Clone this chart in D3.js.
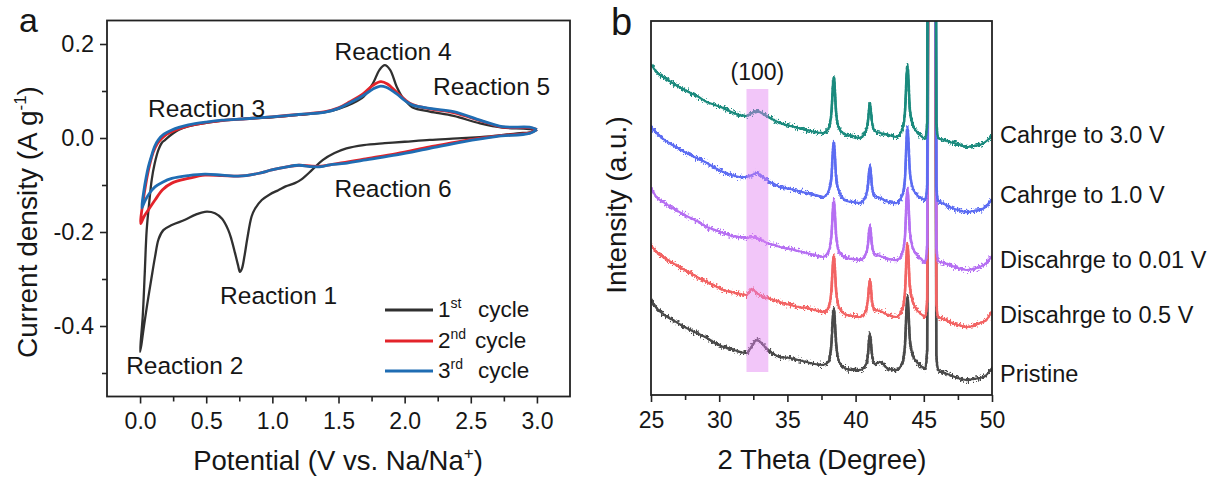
<!DOCTYPE html>
<html><head><meta charset="utf-8">
<script src="https://cdn.jsdelivr.net/npm/d3@7"></script>
<style>
body{margin:0;background:#fff}
svg{display:block}
text{font-family:"Liberation Sans",Arial,sans-serif;fill:#161616}
</style>
</head><body>
<svg id="c" width="1217" height="482"></svg>
<script>
// ---------- Panel a data: CV curves, [potential V, current A/g] in scan order ----------
const cycle1 = [[3.0,0.018],[2.95,0.012],[2.85,0.01],[2.7,0.005],[2.57,0.002],[2.4,-0.001],[2.19,-0.004],[2.0,-0.008],[1.85,-0.011],[1.69,-0.015],[1.56,-0.022],[1.47,-0.032],[1.38,-0.047],[1.30,-0.068],[1.22,-0.088],[1.17,-0.096],[1.1,-0.103],[1.045,-0.111],[0.98,-0.12],[0.92,-0.132],[0.87,-0.150],[0.843,-0.167],[0.81,-0.215],[0.79,-0.250],[0.77,-0.278],[0.755,-0.285],[0.74,-0.270],[0.718,-0.245],[0.69,-0.215],[0.667,-0.196],[0.62,-0.172],[0.566,-0.160],[0.49,-0.157],[0.42,-0.163],[0.34,-0.174],[0.24,-0.185],[0.176,-0.196],[0.14,-0.215],[0.113,-0.253],[0.085,-0.300],[0.063,-0.338],[0.04,-0.38],[0.025,-0.409],[0.01,-0.44],[0.0,-0.455],
  [0.02,-0.38],[0.035,-0.29],[0.05,-0.196],[0.07,-0.135],[0.088,-0.089],[0.11,-0.055],[0.138,-0.026],[0.165,-0.010],[0.19,-0.004],[0.24,0.008],[0.29,0.017],[0.37,0.025],[0.5,0.032],[0.62,0.037],[0.8,0.041],[1.0,0.044],[1.2,0.049],[1.4,0.055],[1.5,0.062],[1.6,0.073],[1.69,0.088],[1.76,0.116],[1.81,0.145],[1.85,0.155],[1.89,0.145],[1.94,0.109],[1.98,0.088],[2.02,0.075],[2.06,0.065],[2.19,0.056],[2.37,0.047],[2.57,0.031],[2.74,0.022],[2.9,0.02],[3.0,0.018]];
const cycle2 = [[3.0,0.018],[2.945,0.011],[2.69,0.004],[2.44,-0.006],[2.19,-0.019],[1.94,-0.033],[1.69,-0.045],[1.55,-0.052],[1.435,-0.057],[1.37,-0.060],[1.3,-0.060],[1.2,-0.058],[1.1,-0.062],[0.995,-0.068],[0.9,-0.075],[0.8,-0.080],[0.74,-0.081],[0.62,-0.080],[0.49,-0.079],[0.365,-0.086],[0.24,-0.096],[0.17,-0.11],[0.113,-0.132],[0.07,-0.15],[0.03,-0.167],[0.005,-0.182],
  [0.025,-0.13],[0.045,-0.095],[0.07,-0.06],[0.1,-0.03],[0.13,-0.012],[0.16,-0.002],[0.2,0.008],[0.26,0.016],[0.365,0.026],[0.5,0.033],[0.62,0.037],[0.8,0.041],[0.995,0.045],[1.2,0.05],[1.4,0.056],[1.5,0.064],[1.586,0.077],[1.69,0.095],[1.76,0.112],[1.82,0.12],[1.87,0.115],[1.94,0.097],[2.0,0.082],[2.06,0.071],[2.19,0.062],[2.37,0.054],[2.57,0.037],[2.74,0.023],[2.945,0.022],[3.0,0.018]];
const cycle3 = [[3.0,0.018],[2.945,0.01],[2.69,0.003],[2.44,-0.008],[2.19,-0.022],[1.94,-0.036],[1.69,-0.047],[1.55,-0.054],[1.435,-0.057],[1.37,-0.061],[1.3,-0.061],[1.2,-0.058],[1.1,-0.062],[0.995,-0.068],[0.9,-0.075],[0.8,-0.080],[0.74,-0.081],[0.62,-0.079],[0.49,-0.077],[0.365,-0.080],[0.24,-0.086],[0.17,-0.094],[0.113,-0.104],[0.07,-0.118],[0.04,-0.132],[0.013,-0.149],
  [0.03,-0.11],[0.045,-0.085],[0.063,-0.061],[0.09,-0.035],[0.11,-0.018],[0.138,-0.004],[0.18,0.008],[0.24,0.017],[0.3,0.023],[0.365,0.028],[0.5,0.034],[0.62,0.038],[0.8,0.041],[0.995,0.045],[1.2,0.05],[1.4,0.055],[1.5,0.063],[1.586,0.075],[1.69,0.091],[1.76,0.104],[1.81,0.11],[1.86,0.108],[1.94,0.094],[2.0,0.08],[2.06,0.07],[2.19,0.063],[2.37,0.056],[2.57,0.038],[2.74,0.024],[2.945,0.023],[3.0,0.018]];
const cycleNames = ["1", "2", "3"];
const cycleSups = ["st", "nd", "rd"];
const cvXTicks = [0, 0.5, 1.0, 1.5, 2.0, 2.5, 3.0];
const cvXTickLabels = ["0.0", "0.5", "1.0", "1.5", "2.0", "2.5", "3.0"];
const cvXMinor = [0.25, 0.75, 1.25, 1.75, 2.25, 2.75];
const cvYTicks = [0.2, 0.0, -0.2, -0.4];
const cvYTickLabels = ["0.2", "0.0", "-0.2", "-0.4"];
const cvYMinor = [0.1, -0.1, -0.3, -0.5];
const reactionLabels = ["Reaction 1", "Reaction 2", "Reaction 3", "Reaction 4", "Reaction 5", "Reaction 6"];
const reactionAt = [[0.605,-0.353],[-0.105,-0.503],[0.06,0.045],[1.47,0.166],[2.215,0.092],[1.47,-0.125]]; // [V, A/g] of label baseline start

// ---------- Panel b data: XRD patterns (arbitrary intensity units) ----------
const twoTheta = [25.0,25.4,26.0,26.6,27.2,27.9,28.5,29.1,29.7,30.3,30.9,31.5,32.0,32.4,32.75,33.1,33.5,34.0,34.46,35.2,35.8,36.4,37.0,37.6,38.0,38.22,38.4,38.58,38.8,39.35,39.8,40.3,40.75,40.9,41.05,41.2,41.4,41.8,42.4,43.0,43.45,43.62,43.8,43.98,44.2,44.5,44.8,45.1,45.25,45.38,45.6,45.8,45.92,46.06,46.5,46.9,47.5,48.1,48.6,49.1,49.5,50.0];
const pristine = [95,87,80,75,70,65,61,57,52,48,46,43,42,49,55,52,46,41,38,37,35,33,31,30,33,50,87,50,33,26,25,25,30,40,62,40,31,33,26,25,33,50,99,55,39,33,29,26,45,700,800,700,40,25,22,20,17,15,16,17,19,27];
const discharge05 = [150,143,137,132,127,122,117,113,109,105,103,101,100,106,102,99,97,95,93,90,88,87,85,83,87,103,140,103,87,80,79,78,84,95,116,95,85,84,80,78,87,103,152,108,93,85,81,78,95,750,850,750,93,78,76,73,70,68,69,72,74,84];
const discharge001 = [207,198,192,187,182,177,173,168,165,162,159,158,157,158,157,155,152,150,148,146,144,142,140,138,143,158,195,158,143,137,136,135,141,150,170,150,141,139,136,135,143,159,207,163,147,140,136,133,150,800,900,800,150,134,132,130,127,125,126,128,131,139];
const charge10 = [268,262,255,250,245,240,236,232,227,223,220,218,218,220,222,219,215,211,208,206,204,202,200,198,203,217,253,217,203,194,193,192,199,209,230,209,199,197,193,192,201,217,268,223,207,200,197,195,210,850,950,850,210,194,191,188,185,183,184,185,188,196];
const charge30 = [331,323,317,312,307,302,298,293,290,287,283,280,279,282,284,282,279,275,272,269,267,265,263,262,266,281,318,281,266,260,259,257,264,273,292,273,264,262,260,258,267,283,330,285,270,263,259,256,273,900,1000,900,273,257,255,253,251,248,249,250,253,259];
const xrdSeries = [pristine, discharge05, discharge001, charge10, charge30];
const xrdNames = ["Pristine", "Discahrge to 0.5 V", "Discahrge to 0.01 V", "Cahrge to 1.0 V", "Cahrge to 3.0 V"];
const xrdLabelAt = [13, 72, 127, 192, 252]; // intensity level of each right label
const xrdXTicks = [25, 30, 35, 40, 45, 50];
const xrdXMinor = [27.5, 32.5, 37.5, 42.5, 47.5];
const bandTheta = [32.0, 33.6];
const bandIntensity = [23, 306];
const bandLabel = "(100)";

// ---------- drawing ----------
const FONT = '"Liberation Sans", Arial, sans-serif';
const svg = d3.select("#c");
const INK = "#222";

function styleAxis(g, size) {
  g.attr("font-family", FONT).attr("font-size", size);
  g.select(".domain").remove();
  g.selectAll(".tick line").attr("stroke", INK).attr("stroke-width", 1.6);
  g.selectAll(".tick text").attr("fill", "#161616");
}

// ===== Panel a =====
const xA = d3.scaleLinear().domain([-0.25, 3.25]).range([107, 570]);
const yA = d3.scaleLinear().domain([-0.55, 0.25]).range([396.5, 20.5]);

const cvColors = ["#303030", "#e3232a", "#1f6db3"];
const cvLine = d3.line().x(d => xA(d[0])).y(d => yA(d[1])).curve(d3.curveCatmullRom.alpha(0.5));
const ga = svg.append("g");
[cycle1, cycle2, cycle3].forEach((c, i) => {
  ga.append("path").attr("d", cvLine(c)).attr("fill", "none")
    .attr("stroke", cvColors[i]).attr("stroke-width", i === 0 ? 2.3 : 2.8)
    .attr("stroke-linejoin", "round");
});

ga.append("g").attr("transform", `translate(0,${yA.range()[0]})`)
  .call(d3.axisBottom(xA).tickValues(cvXTicks).tickFormat((d, i) => cvXTickLabels[i]).tickSize(7).tickPadding(9.5))
  .call(g => styleAxis(g, 23));
ga.append("g").attr("transform", `translate(0,${yA.range()[0]})`)
  .call(d3.axisBottom(xA).tickValues(cvXMinor).tickFormat("").tickSize(5))
  .call(g => styleAxis(g, 23));
ga.append("g").attr("transform", `translate(${xA.range()[0]},0)`)
  .call(d3.axisLeft(yA).tickValues(cvYTicks).tickFormat((d, i) => cvYTickLabels[i]).tickSize(7).tickPadding(6))
  .call(g => styleAxis(g, 23.5));
ga.append("g").attr("transform", `translate(${xA.range()[0]},0)`)
  .call(d3.axisLeft(yA).tickValues(cvYMinor).tickFormat("").tickSize(5))
  .call(g => styleAxis(g, 23));
ga.append("rect").attr("x", xA.range()[0]).attr("y", yA.range()[1])
  .attr("width", xA.range()[1] - xA.range()[0]).attr("height", yA.range()[0] - yA.range()[1])
  .attr("fill", "none").attr("stroke", INK).attr("stroke-width", 1.8);

reactionLabels.forEach((t, i) => {
  ga.append("text").attr("x", xA(reactionAt[i][0])).attr("y", yA(reactionAt[i][1]))
    .attr("font-size", 24.5).text(t);
});

// legend
const legY = [310, 341, 371];
cycleNames.forEach((n, i) => {
  ga.append("line").attr("x1", 385).attr("x2", 433).attr("y1", legY[i]).attr("y2", legY[i])
    .attr("stroke", cvColors[i]).attr("stroke-width", 3.2);
  const t = ga.append("text").attr("x", 438).attr("y", legY[i] + 7).attr("font-size", 22.5);
  t.append("tspan").text(n);
  t.append("tspan").attr("font-size", 14).attr("dy", -9).text(cycleSups[i]);
  t.append("tspan").attr("x", i === 1 ? 475 : 478).attr("dy", 9).text("cycle");
});

// axis titles
const tx = ga.append("text").attr("x", 338).attr("y", 470).attr("text-anchor", "middle").attr("font-size", 27.5);
tx.append("tspan").text("Potential (V vs. Na/Na");
tx.append("tspan").attr("font-size", 17).attr("dy", -11).text("+");
tx.append("tspan").attr("dy", 11).text(")");
const ty = ga.append("text").attr("transform", "translate(37,222) rotate(-90)").attr("text-anchor", "middle").attr("font-size", 28);
ty.append("tspan").text("Current density (A g");
ty.append("tspan").attr("font-size", 17).attr("dy", -11).text("-1");
ty.append("tspan").attr("dy", 11).text(")");
svg.append("text").attr("x", 19).attr("y", 32).attr("font-size", 34).text("a");

// ===== Panel b =====
const xB = d3.scaleLinear().domain([25, 50]).range([651, 992]);
const yB = d3.scaleLinear().domain([0, 374]).range([395, 21]);

const defs = svg.append("defs");
defs.append("clipPath").attr("id", "clipB").append("rect")
  .attr("x", 651).attr("y", 21).attr("width", 341).attr("height", 374);
const f = defs.append("filter").attr("id", "jit").attr("filterUnits", "userSpaceOnUse")
  .attr("x", 640).attr("y", 0).attr("width", 370).attr("height", 420)
  .attr("color-interpolation-filters", "sRGB");
f.append("feTurbulence").attr("type", "fractalNoise").attr("baseFrequency", "0.6 0.4").attr("numOctaves", 2).attr("seed", 7).attr("result", "t");
f.append("feColorMatrix").attr("in", "t").attr("type", "matrix")
  .attr("values", "0 0 0 0 0.5  0 1 0 0 0  0 0 0 0 0  0 0 0 0 1").attr("result", "m");
f.append("feDisplacementMap").attr("in", "SourceGraphic").attr("in2", "m").attr("scale", 10)
  .attr("xChannelSelector", "R").attr("yChannelSelector", "G");

const xrdColors = ["#4a4a4a", "#f26363", "#b56ff2", "#5c6cf2", "#1a8a7d"];
const xrdLine = d3.line().x((d, i) => xB(twoTheta[i])).y(d => yB(d)).curve(d3.curveMonotoneX);
const gb = svg.append("g");
const plotB = gb.append("g").attr("clip-path", "url(#clipB)");
xrdSeries.forEach((s, i) => {
  const g = plotB.append("g");
  g.append("path").attr("d", xrdLine(s)).attr("fill", "none").attr("stroke", xrdColors[i])
    .attr("stroke-width", 2.1).attr("stroke-linejoin", "round");
  g.append("path").attr("d", xrdLine(s)).attr("fill", "none").attr("stroke", xrdColors[i])
    .attr("stroke-width", 2.6).attr("filter", "url(#jit)");
});
// highlight band over (100)
plotB.append("rect").attr("x", xB(bandTheta[0])).attr("width", xB(bandTheta[1]) - xB(bandTheta[0]))
  .attr("y", yB(bandIntensity[1])).attr("height", yB(bandIntensity[0]) - yB(bandIntensity[1]))
  .attr("fill", "rgb(226,128,242)").attr("fill-opacity", 0.45);
gb.append("text").attr("x", xB((bandTheta[0] + bandTheta[1]) / 2)).attr("y", yB(bandIntensity[1]) - 9)
  .attr("text-anchor", "middle").attr("font-size", 23).text(bandLabel);

gb.append("g").attr("transform", `translate(0,${yB.range()[0]})`)
  .call(d3.axisBottom(xB).tickValues(xrdXTicks).tickFormat(d3.format("d")).tickSize(7).tickPadding(10))
  .call(g => styleAxis(g, 23));
gb.append("g").attr("transform", `translate(0,${yB.range()[0]})`)
  .call(d3.axisBottom(xB).tickValues(xrdXMinor).tickFormat("").tickSize(5))
  .call(g => styleAxis(g, 23));
gb.append("rect").attr("x", 651).attr("y", 21).attr("width", 341).attr("height", 374)
  .attr("fill", "none").attr("stroke", INK).attr("stroke-width", 1.8);

xrdNames.forEach((n, i) => {
  gb.append("text").attr("x", 1000).attr("y", yB(xrdLabelAt[i])).attr("font-size", 23.5).text(n);
});

gb.append("text").attr("x", 822).attr("y", 469).attr("text-anchor", "middle").attr("font-size", 27.5).text("2 Theta (Degree)");
gb.append("text").attr("transform", "translate(626,205) rotate(-90)").attr("text-anchor", "middle")
  .attr("font-size", 28).text("Intensity (a.u.)");
svg.append("text").attr("x", 611).attr("y", 35).attr("font-size", 38).text("b");
</script>
</body></html>
